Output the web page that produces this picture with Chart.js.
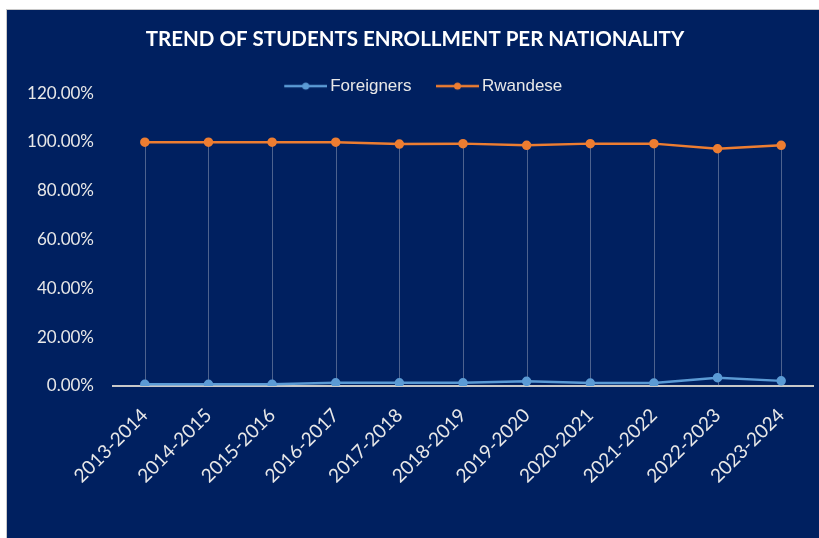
<!DOCTYPE html>
<html>
<head>
<meta charset="utf-8">
<script src="https://cdn.jsdelivr.net/npm/chart.js@4.4.1/dist/chart.umd.min.js"></script>
<style>
  body { margin: 0; background: #fff; }
  #wrap { position: absolute; left: 6px; top: 9px; width: 813px; height: 529px; background: #002060; border-left: 1px solid #c8c8c8; border-top: 1px solid #c8c8c8; }
</style>
</head>
<body>
<div id="wrap"><canvas id="trendChart" width="813" height="529"></canvas></div>
<script>
// academic years
var years = ["2013-2014", "2014-2015", "2015-2016", "2016-2017", "2017-2018", "2018-2019",
             "2019-2020", "2020-2021", "2021-2022", "2022-2023", "2023-2024"];
// share of enrolled students (%)
var foreigners = [0.7, 0.7, 0.7, 1.3, 1.3, 1.3, 1.9, 1.2, 1.2, 3.4, 2.1];
var rwandese = [99.9, 99.9, 99.9, 99.9, 99.1, 99.3, 98.6, 99.3, 99.3, 97.2, 98.6];
var yMax = 120;
var yStep = 20;

var blue = "#5B9BD5";
var orange = "#ED7D31";

// legend symbol: line with a dot, drawn at the right end of the image
function legendMark(color) {
    var c = document.createElement("canvas");
    c.width = 65; c.height = 10;
    var g = c.getContext("2d");
    g.strokeStyle = color; g.lineWidth = 2.5;
    g.beginPath(); g.moveTo(22, 5); g.lineTo(65, 5); g.stroke();
    g.fillStyle = color;
    g.beginPath(); g.arc(43.5, 5, 3.5, 0, Math.PI * 2); g.fill();
    return c;
}
var marks = [legendMark(blue), legendMark(orange)];

// vertical drop lines from the highest point down to the axis
var dropLines = {
    id: "dropLines",
    afterLayout: function (chart) {
        // let the legend text hang a little below its box
        chart.legend.bottom += 14;
        chart.legend.height += 14;
    },
    beforeDatasetsDraw: function (chart) {
        var ctx = chart.ctx;
        var bottom = chart.scales.y.bottom;
        var top = chart.getDatasetMeta(1).data;
        ctx.save();
        ctx.strokeStyle = "rgba(170,180,200,0.45)";
        ctx.lineWidth = 1;
        top.forEach(function (pt) {
            ctx.beginPath();
            ctx.moveTo(Math.round(pt.x) + 0.5, pt.y);
            ctx.lineTo(Math.round(pt.x) + 0.5, bottom);
            ctx.stroke();
        });
        ctx.restore();
    }
};

var ctx = document.getElementById("trendChart").getContext("2d");
var chart = new Chart(ctx, {
    type: "line",
    data: {
        labels: years,
        datasets: [{
            label: "Foreigners",
            data: foreigners,
            borderColor: blue,
            backgroundColor: blue,
            borderWidth: 2.5,
            pointRadius: 3.5,
            pointStyle: "circle",
            tension: 0
        }, {
            label: "Rwandese",
            data: rwandese,
            borderColor: orange,
            backgroundColor: orange,
            borderWidth: 2.5,
            pointRadius: 3.5,
            pointStyle: "circle",
            tension: 0
        }]
    },
    options: {
        responsive: false,
        animation: false,
        layout: { padding: { left: 10, right: 7, top: 0, bottom: 43 } },
        plugins: {
            title: {
                display: true,
                text: "TREND OF STUDENTS ENROLLMENT PER NATIONALITY",
                color: "#ffffff",
                font: { family: "Lato", size: 20.5, weight: "bold" },
                padding: { top: 17, bottom: 18 }
            },
            legend: {
                display: true,
                maxHeight: 23.5,
                labels: {
                    color: "#e8e8e8",
                    font: { family: "Liberation Sans", size: 17 },
                    usePointStyle: true,
                    pointStyleWidth: 54,
                    padding: 8,
                    generateLabels: function (chart) {
                        var items = Chart.defaults.plugins.legend.labels.generateLabels(chart);
                        items.forEach(function (it, i) { it.pointStyle = marks[i]; });
                        return items;
                    }
                }
            },
            tooltip: { enabled: false }
        },
        scales: {
            x: {
                offset: true,
                grid: { display: false, drawTicks: false },
                border: { display: true, color: "#c8c8c8", width: 2 },
                ticks: {
                    color: "#e8e8e8",
                    font: { family: "Lato", size: 19 },
                    minRotation: 45,
                    maxRotation: 45,
                    autoSkip: false,
                    padding: 18
                },
                afterFit: function (scale) { scale.height = 110; }
            },
            y: {
                min: 0,
                max: yMax,
                grid: { display: false, drawTicks: false },
                border: { display: false },
                ticks: {
                    stepSize: yStep,
                    color: "#e8e8e8",
                    font: { family: "Lato", size: 17 },
                    padding: 19,
                    callback: function (v) { return v.toFixed(2) + "%"; }
                },
                afterFit: function (scale) { scale.width = 96; }
            }
        }
    },
    plugins: [dropLines]
});
</script>
</body>
</html>
